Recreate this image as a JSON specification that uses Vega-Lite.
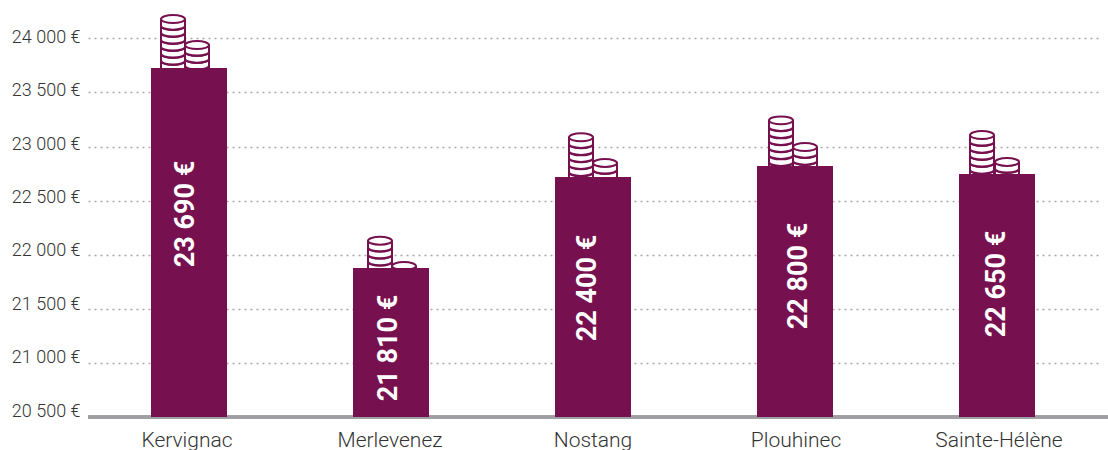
{
"$schema":"https://vega.github.io/schema/vega-lite/v6.json",
"width":1020,"height":417,
"autosize":"none",
"padding":{"left":88,"top":0,"right":0,"bottom":33},
"background":"white",
"config":{"view":{"stroke":null},"font":"Roboto"},
"datasets":{
"barres":[
{"commune":"Kervignac","hauteur":23725,"montant":"23 690 €","etiquette":22376},
{"commune":"Merlevenez","hauteur":21877,"montant":"21 810 €","etiquette":21138},
{"commune":"Nostang","hauteur":22718,"montant":"22 400 €","etiquette":21692},
{"commune":"Plouhinec","hauteur":22820,"montant":"22 800 €","etiquette":21803},
{"commune":"Sainte-Hélène","hauteur":22746,"montant":"22 650 €","etiquette":21729}
],
"pieces":[
{"commune":"Kervignac","repere":"Kervignac/gauche","niveau":23762},
{"commune":"Kervignac","repere":"Kervignac/gauche","niveau":23827},
{"commune":"Kervignac","repere":"Kervignac/gauche","niveau":23892},
{"commune":"Kervignac","repere":"Kervignac/gauche","niveau":23956},
{"commune":"Kervignac","repere":"Kervignac/gauche","niveau":24021},
{"commune":"Kervignac","repere":"Kervignac/gauche","niveau":24086},
{"commune":"Kervignac","repere":"Kervignac/gauche","niveau":24150},
{"commune":"Kervignac","repere":"Kervignac/droite","niveau":23716},
{"commune":"Kervignac","repere":"Kervignac/droite","niveau":23781},
{"commune":"Kervignac","repere":"Kervignac/droite","niveau":23845},
{"commune":"Kervignac","repere":"Kervignac/droite","niveau":23910},
{"commune":"Merlevenez","repere":"Merlevenez/gauche","niveau":21907},
{"commune":"Merlevenez","repere":"Merlevenez/gauche","niveau":21972},
{"commune":"Merlevenez","repere":"Merlevenez/gauche","niveau":22036},
{"commune":"Merlevenez","repere":"Merlevenez/gauche","niveau":22101},
{"commune":"Merlevenez","repere":"Merlevenez/droite","niveau":21868},
{"commune":"Nostang","repere":"Nostang/gauche","niveau":22733},
{"commune":"Nostang","repere":"Nostang/gauche","niveau":22798},
{"commune":"Nostang","repere":"Nostang/gauche","niveau":22863},
{"commune":"Nostang","repere":"Nostang/gauche","niveau":22927},
{"commune":"Nostang","repere":"Nostang/gauche","niveau":22992},
{"commune":"Nostang","repere":"Nostang/gauche","niveau":23057},
{"commune":"Nostang","repere":"Nostang/droite","niveau":22755},
{"commune":"Nostang","repere":"Nostang/droite","niveau":22820},
{"commune":"Plouhinec","repere":"Plouhinec/gauche","niveau":22825},
{"commune":"Plouhinec","repere":"Plouhinec/gauche","niveau":22890},
{"commune":"Plouhinec","repere":"Plouhinec/gauche","niveau":22955},
{"commune":"Plouhinec","repere":"Plouhinec/gauche","niveau":23020},
{"commune":"Plouhinec","repere":"Plouhinec/gauche","niveau":23084},
{"commune":"Plouhinec","repere":"Plouhinec/gauche","niveau":23149},
{"commune":"Plouhinec","repere":"Plouhinec/gauche","niveau":23214},
{"commune":"Plouhinec","repere":"Plouhinec/droite","niveau":22838},
{"commune":"Plouhinec","repere":"Plouhinec/droite","niveau":22902},
{"commune":"Plouhinec","repere":"Plouhinec/droite","niveau":22967},
{"commune":"Sainte-Hélène","repere":"Sainte-Hélène/gauche","niveau":22755},
{"commune":"Sainte-Hélène","repere":"Sainte-Hélène/gauche","niveau":22819},
{"commune":"Sainte-Hélène","repere":"Sainte-Hélène/gauche","niveau":22884},
{"commune":"Sainte-Hélène","repere":"Sainte-Hélène/gauche","niveau":22949},
{"commune":"Sainte-Hélène","repere":"Sainte-Hélène/gauche","niveau":23013},
{"commune":"Sainte-Hélène","repere":"Sainte-Hélène/gauche","niveau":23078},
{"commune":"Sainte-Hélène","repere":"Sainte-Hélène/droite","niveau":22764},
{"commune":"Sainte-Hélène","repere":"Sainte-Hélène/droite","niveau":22829}
]
},
"data":{"name":"barres"},
"encoding":{
"x":{"field":"commune","type":"nominal","sort":null,"title":null,
"scale":{"range":[0,1010],"paddingInner":0,"paddingOuter":0},
"axis":{"domain":false,"ticks":false,"grid":false,"labelAngle":0,"labelFont":"Roboto","labelFontWeight":300,"labelFontSize":21,"labelColor":"#333333","labelPadding":12,"labelOffset":{"expr":"-2+4*datum.index"}}}
},
"layer":[
{"mark":{"type":"rule","color":"#9d9fa2","strokeWidth":3},
 "encoding":{"x":{"value":0},"x2":{"value":1020},"y":{"datum":20500,"type":"quantitative","scale":{"domain":[20500,24354],"nice":false,"zero":false},
 "title":null,
 "axis":{"values":[20500,21000,21500,22000,22500,23000,23500,24000],"domain":false,"ticks":false,"grid":true,"gridColor":"#a8a8a8","gridDash":[2,4],"gridWidth":1.5,
 "labelFont":"Roboto","labelFontWeight":300,"labelFontSize":18,"labelColor":"#333333","labelPadding":8,
 "labelExpr":"replace(format(datum.value,','),',',' ')+' €'","labelOffset":{"expr":"-1-(24000-datum.value)/500*0.7"}}}}},
{"data":{"name":"pieces"},
 "mark":{"type":"point","filled":false,"fill":"white","fillOpacity":1,"stroke":"#77104f","strokeWidth":2,"opacity":1,"size":576,
 "xOffset":{"expr":"{'Kervignac/gauche':-16,'Kervignac/droite':8,'Merlevenez/gauche':-11,'Merlevenez/droite':13,'Nostang/gauche':-12,'Nostang/droite':12,'Plouhinec/gauche':-14,'Plouhinec/droite':10,'Sainte-Hélène/gauche':-15,'Sainte-Hélène/droite':10}[datum.repere]"},
 "shape":"M-1,-0.25 C-1,-0.43 -0.55,-0.58 0,-0.58 C0.55,-0.58 1,-0.43 1,-0.25 L1,0.3 C1,0.48 0.55,0.63 0,0.63 C-0.55,0.63 -1,0.48 -1,0.3 Z M1,-0.25 C1,-0.07 0.55,0.08 0,0.08 C-0.55,0.08 -1,-0.07 -1,-0.25"},
 "encoding":{
  "y":{"field":"niveau","type":"quantitative","title":null}
 }},
{"mark":{"type":"bar","color":"#77104f","size":76},
 "encoding":{"y":{"field":"hauteur","type":"quantitative","title":null},"y2":{"datum":20500}}},
{"mark":{"type":"text","angle":270,"font":"Roboto","fontWeight":700,"fontSize":27,"color":"white","align":"center","baseline":"middle",
 "xOffset":{"expr":"{'Kervignac':-3,'Merlevenez':-2,'Nostang':-5,'Plouhinec':4,'Sainte-Hélène':0}[datum.commune]"}},
 "encoding":{
  "y":{"field":"etiquette","type":"quantitative","title":null},
  "text":{"field":"montant"}
 }}
]
}
